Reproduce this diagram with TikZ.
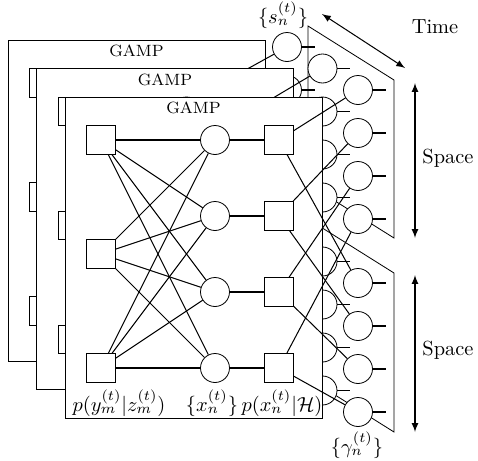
\documentclass[tikz,border=0pt]{standalone}
\usetikzlibrary{arrows}

\tikzset{
  fac/.style={draw, fill=white, minimum size=14pt, inner sep=0pt},
  var/.style={draw, circle, fill=white, minimum size=14.2pt, inner sep=0pt},
  panel/.style={draw, fill=white},
  link/.style={line width=0.5pt},
}

\begin{document}
\begin{tikzpicture}[x=0.49pt, y=-0.49pt, >=latex]

      \useasboundingbox (0,0) rectangle (478,461);

      % the two blocks of s and gamma, seen in space and time
      \draw (308,26) -- (394,80) -- (394,238) -- (308,184) -- cycle;
      \draw (308,219) -- (394,273) -- (394,432) -- (308,378) -- cycle;

      % one GAMP panel per time step, back to front
      \foreach \k in {0,1,2} {
        \begin{scope}[shift={(8+28.5*\k,40+28.5*\k)}]
          \draw[panel] (0,0) rectangle (257,321);
          \node[font=\footnotesize] (gamp\k) at (128.5,11) {GAMP};
          \foreach \j/\y in {1/43,2/157,3/271}
            \node[fac] (y\k\j) at (36,\y) {};
          \foreach \i/\y in {1/43,2/119,3/195,4/271} {
            \node[var] (x\k\i) at (150,\y) {};
            \node[fac] (h\k\i) at (214,\y) {};
            \draw[link] (x\k\i) -- (h\k\i);
          }
        \end{scope}
        \foreach \j in {1,2,3}
          \foreach \i in {1,...,4}
            \draw[link] (y\k\j) -- (x\k\i);
        % s (upper four) and gamma (lower four)
        \foreach \i/\y in {1/0,2/43,3/86,4/129,5/193,6/236,7/279,8/322} {
          \node[var] (s\k\i) at (287+35.5*\k,47+21.5*\k+\y) {};
          \draw[link] (s\k\i.east) -- ++(13,0);
        }
        \foreach \i in {1,...,4} {
          \pgfmathtruncatemacro\m{\i+4}
          \draw[link] (h\k\i) -- (s\k\i);
          \draw[link] (h\k\i) -- (s\k\m);
        }
      }

      % labels of the front panel
      \node (ly) at (119,403) {$p(y_m^{(t)}|z_m^{(t)})$};
      \node (lx) at (212,403) {$\{x_n^{(t)}\}$};
      \node (lh) at (282,403) {$p(x_n^{(t)}|\mathcal{H})$};
      \node (ls) at (283,15) {$\{s_n^{(t)}\}$};
      \node (lg) at (357,445) {$\{\gamma_n^{(t)}\}$};

      % axes
      \coordinate (t0) at (322,14);
      \coordinate (t1) at (405,68);
      \coordinate (a0) at (415,83);
      \coordinate (a1) at (415,238);
      \coordinate (b0) at (415,275);
      \coordinate (b1) at (415,432);
      \draw[link, <->] (t0) -- (t1);
      \draw[link, <->] (a0) -- (a1);
      \draw[link, <->] (b0) -- (b1);
      \node (time) at (435,27) {Time};
      \node (sp1) at (448,158) {Space};
      \node (sp2) at (448,350) {Space};

\end{tikzpicture}
\end{document}
